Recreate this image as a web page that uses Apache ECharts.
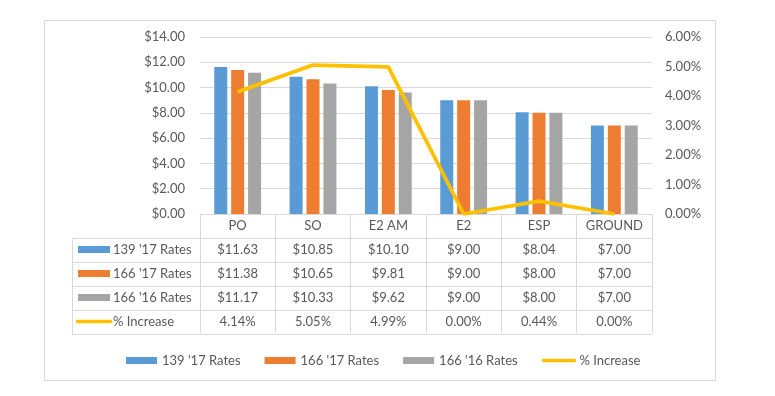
<!DOCTYPE html>
<html>
<head>
<meta charset="utf-8">
<script src="https://cdn.jsdelivr.net/npm/echarts@6/dist/echarts.min.js"></script>
<style>html,body{margin:0;padding:0;background:#fff}#c{width:775px;height:396px}</style>
</head>
<body>
<div id="c"></div>
<script>
const categories = ['PO', 'SO', 'E2 AM', 'E2', 'ESP', 'GROUND'];
const rates139_17 = [11.63, 10.85, 10.10, 9.00, 8.04, 7.00];
const rates166_17 = [11.38, 10.65, 9.81, 9.00, 8.00, 7.00];
const rates166_16 = [11.17, 10.33, 9.62, 9.00, 8.00, 7.00];
const pctIncrease = [4.14, 5.05, 4.99, 0.00, 0.44, 0.00];
const seriesNames = ["139 '17 Rates", "166 '17 Rates", "166 '16 Rates", "% Increase"];
const colors = ['#5B9BD5', '#ED7D31', '#A5A5A5', '#FFC000'];

const FONT = 'Lato, "Liberation Sans", sans-serif';
const TXT = '#595959';
const LINE = '#D9D9D9';
const money = v => '$' + v.toFixed(2);
const pct = v => v.toFixed(2) + '%';

const chart = echarts.init(document.getElementById('c'), null, {renderer: 'canvas'});

const barSeries = [rates139_17, rates166_17, rates166_16].map((d, i) => ({
  name: seriesNames[i], type: 'bar', data: d, barWidth: 13, barGap: '30%',
  itemStyle: {color: colors[i]}, yAxisIndex: 0
}));

chart.setOption({
  animation: false,
  textStyle: {fontFamily: FONT},
  grid: {left: 200, right: 123, top: 37, bottom: 182},
  legend: {
    left: 121, top: 349, itemWidth: 31, itemHeight: 7, itemGap: 24,
    textStyle: {color: TXT, fontSize: 13, fontFamily: FONT},
    data: seriesNames.map((n, i) => i < 3 ? {name: n, icon: 'rect'} :
      {name: n, itemStyle: {opacity: 0}, lineStyle: {width: 3.5, cap: 'round', color: colors[3]}})
  },
  xAxis: {
    type: 'category', data: categories,
    axisLine: {show: true, lineStyle: {color: LINE, width: 1}},
    axisTick: {show: true, length: 119, interval: 0, lineStyle: {color: LINE}},
    axisLabel: {
      interval: 0, margin: 0, color: TXT, fontSize: 13, fontFamily: FONT, lineHeight: 24,
      formatter: (v, i) => [v, money(rates139_17[i]), money(rates166_17[i]), money(rates166_16[i]), pct(pctIncrease[i])].join('\n')
    }
  },
  yAxis: [
    {
      type: 'value', min: 0, max: 14, interval: 2,
      axisLine: {show: false}, axisTick: {show: false},
      splitLine: {lineStyle: {color: LINE}},
      axisLabel: {color: TXT, fontSize: 13, fontFamily: FONT, margin: 15, formatter: money}
    },
    {
      type: 'value', min: 0, max: 6, interval: 1, position: 'right',
      axisLine: {show: false}, axisTick: {show: false}, splitLine: {show: false},
      axisLabel: {color: TXT, fontSize: 13, fontFamily: FONT, margin: 13, formatter: pct}
    }
  ],
  series: barSeries.concat([{
    name: seriesNames[3], type: 'line', yAxisIndex: 1, data: pctIncrease,
    symbol: 'none', lineStyle: {color: colors[3], width: 3.8}, itemStyle: {color: colors[3]}
  }])
});

// data table frame and row headers
const x0 = chart.convertToPixel({xAxisIndex: 0}, 0);
const x1 = chart.convertToPixel({xAxisIndex: 0}, 1);
const band = x1 - x0;
const left = x0 - band / 2;
const right = left + band * categories.length;
const base = chart.convertToPixel({yAxisIndex: 0}, 0);
const headerH = 23.5, rowH = 24;
const colLeft = 72.5;
const g = [];
g.push({type: 'rect', shape: {x: 44.5, y: 20.5, width: 671, height: 360}, style: {fill: null, stroke: LINE, lineWidth: 1}, silent: true});
for (let r = 0; r <= 4; r++) {
  const y = Math.round(base + headerH + r * rowH) + 0.5;
  g.push({type: 'line', shape: {x1: colLeft, y1: y, x2: right, y2: y}, style: {stroke: LINE, lineWidth: 1}, silent: true});
}
g.push({type: 'line', shape: {x1: colLeft, y1: Math.round(base + headerH) + 0.5, x2: colLeft, y2: Math.round(base + headerH + 4 * rowH) + 0.5}, style: {stroke: LINE, lineWidth: 1}, silent: true});
seriesNames.forEach((n, i) => {
  const cy = base + headerH + i * rowH + rowH / 2;
  if (i < 3) {
    g.push({type: 'rect', shape: {x: 78, y: cy - 3.5, width: 32, height: 7}, style: {fill: colors[i]}, silent: true});
  } else {
    g.push({type: 'line', shape: {x1: 77.5, y1: cy, x2: 110.5, y2: cy}, style: {stroke: colors[3], lineWidth: 3.5, lineCap: 'round'}, silent: true});
  }
  g.push({type: 'text', x: 113, y: cy, style: {text: n, fill: TXT, font: '13px ' + FONT, textAlign: 'left', textVerticalAlign: 'middle'}, silent: true});
});
chart.setOption({graphic: g});
</script>
</body>
</html>
